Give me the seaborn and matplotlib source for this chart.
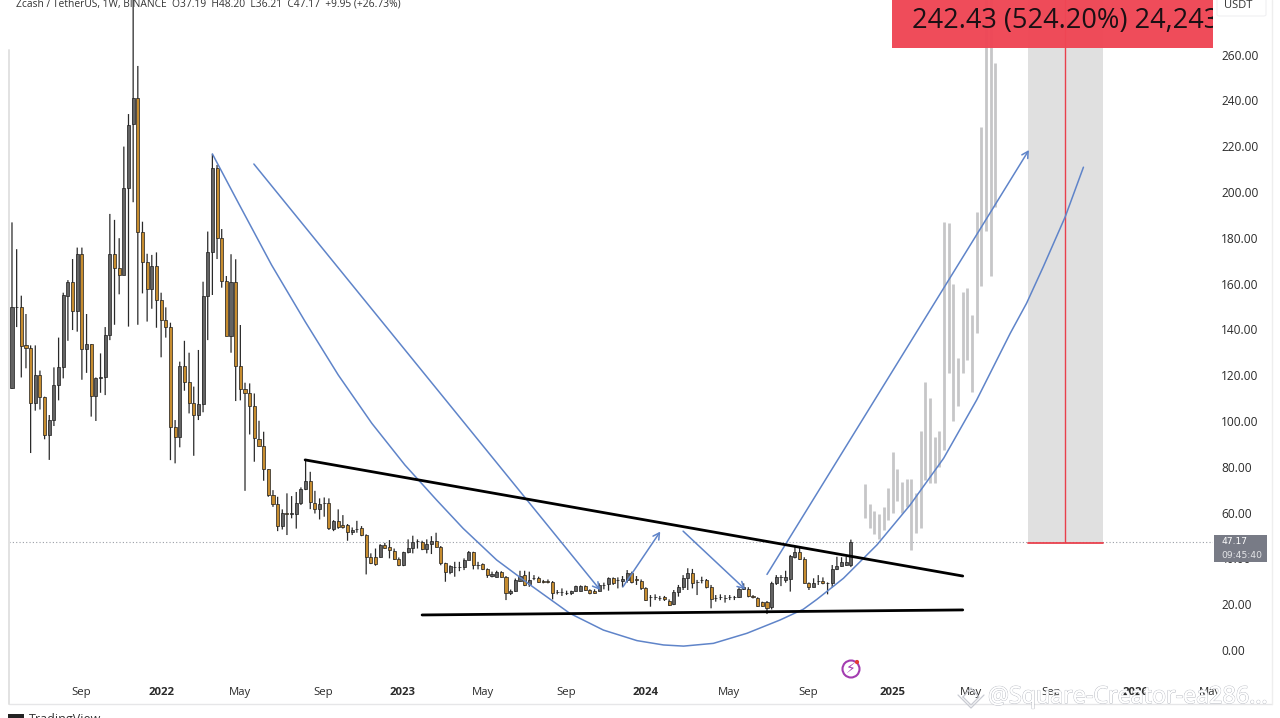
import numpy as np
import pandas as pd
import seaborn as sb
import matplotlib.pyplot as plt
import matplotlib.patheffects as pe
from matplotlib.lines import Line2D
from matplotlib.patches import Circle, Rectangle, FancyBboxPatch

## weekly candles ##
opens = [114.2,149.9,149.6,133,131.7,107.7,120,110.6,93.8,100.4,115.5,123.4,154.7,160.5,148,172.8,131.3,133.5,111,118.6,
         119.3,137.5,172.9,167,163.9,201.6,229.5,241.2,182.7,169.6,157.5,167.7,152.8,144,141.2,97.2,92.8,124.1,116.9,108,
         102.6,107.2,154.7,173.6,210.3,179.8,161.1,137.2,160.8,124.1,114,112.3,106.7,92.1,89.2,78.9,67.5,63.6,54.2,59.6,
         59.3,59.2,64.4,70.1,73.8,64.4,61.4,64.4,64,53,56.3,54.5,54.5,51.6,53,53.4,50,40.4,40.4,40.7,
         45.8,44.8,43.3,39.7,36.9,42.6,44.6,47.7,47,44.1,46.1,47.7,45.1,37.8,34.2,36.3,36.3,36.3,39.5,42.6,
         37,37.4,35.2,32.3,32,34.2,31.8,24.7,25.7,30.2,32.7,28.6,31.5,31.3,30,30,29.8,25.3,25.2,25,
         24.7,25.7,25.9,27.9,26.2,25.9,25.9,28.5,28.8,31.3,30.6,30.3,30.6,33.8,30.8,30.1,26.9,23,23.1,22.8,
         23,21.4,20.1,25.5,27.6,31.3,33.5,29.8,30.6,30.6,27.6,22.8,23.1,22.8,23,23,23,26.5,26.5,23.6,
         22.5,20.8,20.8,18.6,29.1,31.7,30.6,30.8,40.4,42.6,39.6,29.1,27.6,30.1,30.1,29.1,29.1,35.4,36.8,37.1,37.19]
closes = [149.9,149.9,132.9,132,107.7,120,110.6,93.8,100.4,115.7,123.4,155,160.5,148,172.8,131.3,133.5,111,118.9,119.3,
          137.5,172.9,167,163.9,201.6,229.2,241.2,182.7,169.6,157.5,167.7,152.8,144,141.2,97.2,92.8,124.1,116.9,108,102.6,
          107.2,154.7,173.6,210.3,179.8,161.1,137.2,160.8,124.1,113.9,112.3,106.7,92.4,89.2,78.9,67.5,63.6,54.2,59.6,59.3,
          59.8,64.4,70.1,73.8,64.7,61.4,63.7,64.2,53.1,56.3,53.5,53.5,51.6,52.6,53,50.3,40.4,37.8,37.5,46,
          44.6,43.6,39.7,36.9,42.6,44.6,47,47.7,43.9,46.1,47.7,45.1,37.8,34.2,36.6,36.3,36.1,39.5,42.6,37,
          37,35.2,32.7,33.4,34.2,32,24.7,25.7,30.5,32.4,28.4,30.5,31.5,29.8,29.5,29.7,25,25.2,25.2,25,
          25.7,27.9,27.9,26.2,24.7,24.7,28.4,28.5,31.3,29.1,30.6,30.8,33.8,29.8,30.4,26.9,21.8,23,23.1,22.8,
          22.4,19.6,25.5,27.6,31.6,33.8,29.4,29.8,30.6,27.6,22.1,22.8,23.1,22.8,23,23,26.5,27.4,23.6,23,
          19.2,19.2,18.2,29.4,32,31.7,31.7,41,42.6,39.6,29.4,27.4,29.1,30.1,29.1,29.1,35.2,36.8,38.3,38.3,47.17]
highs = [186.7,175,154.7,146.7,133,133,122,110.6,102.6,123.4,136.4,156,161.5,170.7,175.7,175.7,146.7,133.5,119,129.5,
         141,190.4,187.8,179.8,219.8,234,290,255,187,173,172.5,173.6,156,149.6,142.9,100.4,125.9,135,129.8,115,
         131,160.8,182.7,216.6,211.8,183.8,163.3,172.8,170.6,141.9,116.7,116.4,112,100.1,95.3,78.9,69.8,66.9,61.4,68.4,
         67.2,69,71,83,77.8,69.5,66.2,66.6,66.2,56.7,61.4,58.9,55,53.5,56.4,54.1,50.5,42.2,44.3,46.2,
         46.8,48,44.3,40.4,42.9,48.3,49.9,48.3,47.7,48.3,49.7,51.2,45.4,38.1,37,38.5,38.5,40,43.2,42.9,
         38.5,37.8,35.6,34.2,34.6,34.4,32.3,26.4,31.2,34.6,34.6,34.2,32.7,32,30.6,30.8,30.1,26.2,26.9,25.9,
         25.9,28.1,28.2,28.2,26.5,26.5,29.1,29.4,31.7,31.7,31.7,32.3,34.9,34.2,32.3,30.8,27.4,24,24.3,23.6,
         23.6,22.1,26.2,28.4,32.7,35.7,35.4,30.6,32,31,28.4,24,24.3,24,24,23.6,27.4,29.1,27.4,24,
         23,21.1,21.4,29.8,32.7,32.7,34.6,41.5,45.1,44.8,40.5,29.5,31.3,32.7,31.7,29.5,37.1,40.7,40.5,40.7,48.2]
lows = [114,141,119,123,86,104.5,105,92,83,97.8,109,118.6,135,139.7,139,118,121,101.9,100,112.3,
        111.3,135.3,142,155.3,163.9,141.2,195.5,142,155.7,143.4,149,140.7,127.8,136.4,82.9,81.5,88.5,113.2,103.3,84.8,
        100.4,103.8,135.3,155,170.7,158.2,137,129.8,108.7,109,69.5,94.1,82.2,88.8,73.9,66.9,62.5,51.9,52.6,50.2,
        57.5,53,63.3,69.8,61.5,59.6,57,58.2,52.4,51.9,52.9,53,47.7,50.2,51.2,49.7,33,37.5,36.8,40.4,
        44.3,40,39.3,36.6,36.6,42.2,42.2,44.3,43.6,42.2,41.9,44.8,37,29.8,33.1,32,34.4,34.9,39.3,35.2,
        35.2,34.9,31.5,31.7,31.7,31.7,21.8,24,25.4,29.8,27.9,27.6,30.5,29.4,29.1,29.1,22.1,24.3,23.6,24,
        24,25.5,25.6,25.9,24.3,24.6,25.6,26.5,25.9,28.4,26.9,27.4,29.4,29.1,28.4,26.2,21.4,18.9,21.8,21.5,
        21.4,19.3,19.6,23.3,26.2,26.2,26.9,24,29.1,26.9,18.2,21.1,21.8,20.7,21.8,21.8,22.7,26.2,23,22.5,
        18.9,18.9,15.7,17.7,28.4,27.9,29.4,25.5,40,39.3,29.1,26.2,27.4,28.4,28.7,24.3,27.4,34.9,36.4,36.8,36.21]

## pale projected bars ##
ghost_start = 183
ghost_highs = [72.3,63.6,60.7,59.4,62.6,70.6,86.6,78.9,73.5,74.6,74.5,68.4,95.6,117.2,109.9,93.1,95.6,187,186.5,159.6,
               127.4,156.4,157.9,146.3,191.3,228.5,300,300,256.1]
ghost_lows = [57.5,53.1,50.5,48.3,52.4,56.7,59.9,65.2,59.6,62.6,43.6,50.9,53.1,74.2,72.8,72.8,80,87.3,120.8,100,
              106.7,121,126.6,112.5,138.6,158.9,182.9,163.2,193.5]

## big hand drawn arc ##
arc_x = [43,48.6,55.7,62.9,70,77.2,84.3,91.1,96.8,104,111.2,119.7,126.9,134.1,139.8,144.1,150.5,157.7,164.8,169.8,
         172.7,178.4,185.6,192.7,199.9,207,214.2,217.7,221.3,226,229.9]
arc_y = [216.6,195.1,168.1,143.4,120.1,99,80.8,65.5,53.1,39.3,28.4,16,8.7,4.1,2.2,1.7,2.9,7.3,13.1,17.8,
         22.1,31.3,45.9,63.3,83.7,109.2,138.3,151.4,167.4,189.2,210.8]

## (x0, y0, x1, y1) ##
arrows = [(51.9,212.2,126.2,26.2), (131.1,27.6,139.1,51.7), (144,51.9,157.3,26.5), (162,33,218.2,218.3)]
trend_x = [62.9,204]
trend_y = [83,32.3]
floor_x = [88,204]
floor_y = [15.3,17.5]

y_ticks = [0,20,40,60,80,100,120,140,160,180,200,220,240,260]
x_ticks = [14.8,32,48.9,66.7,83.9,101,118.9,136,153.9,170.8,189,205.8,223,241,257]
x_labels = ['Sep','2022','May','Sep','2023','May','Sep','2024','May','Sep','2025','May','Sep','2026','May']
last_price = 47.17
target_x = [218,234.1]
target_mid = 226

W, H = 1280, 718
sb.set_style("white")
plt.rcParams['font.family'] = ['Open Sans', 'DejaVu Sans']

fig = plt.figure(figsize=(W/100, H/100), dpi=100)
ax = fig.add_axes([9/W, 1-682/H, (1213-9)/W, 682/H])
ax.set_xlim(-0.64, 257.7)
ax.set_ylim(-13.97, 283.8)

df = pd.DataFrame({'x': np.arange(len(opens)), 'o': opens, 'h': highs, 'l': lows, 'c': closes})
up = df[df.c >= df.o]
down = df[df.c < df.o]

ax.vlines(df.x, df.l, df.h, color='#2a2a2a', lw=0.9, zorder=3).set_snap(False)
ax.bar(up.x, (up.c-up.o), bottom=up.o, width=0.66, color='#636363', edgecolor='#1c1c1c', lw=0.5, zorder=4)
ax.bar(down.x, (down.c-down.o), bottom=down.o, width=0.66, color='#c68c2f', edgecolor='#1c1c1c', lw=0.5, zorder=4)

ghost_x = np.arange(ghost_start, ghost_start+len(ghost_highs))
ax.vlines(ghost_x, ghost_lows, ghost_highs, color='#c6c6c8', lw=2.0, zorder=2)

## target zone ##
ax.fill_between(target_x, last_price, 290, color='#e0e0e0', lw=0, zorder=1)
ax.plot([target_mid, target_mid], [last_price, 290], color='#e8404c', lw=1.0, zorder=2)
ax.plot(target_x, [last_price-0.4, last_price-0.4], color='#e8404c', lw=1.3, zorder=2)
ax.axhline(last_price, color='#9a9ea6', lw=0.8, ls=(0, (1, 2)), zorder=1)

## trend lines and arc through seaborn ##
blue = '#5f84c9'
sb.lineplot(x=trend_x, y=trend_y, color='black', lw=2.0, ax=ax, zorder=6)
sb.lineplot(x=floor_x, y=floor_y, color='black', lw=2.0, ax=ax, zorder=6)
sb.lineplot(x=arc_x, y=arc_y, color=blue, lw=1.1, ax=ax, zorder=5, estimator=None, sort=False)
for x0, y0, x1, y1 in arrows:
    ax.annotate('', xy=(x1, y1), xytext=(x0, y0), zorder=5,
                arrowprops=dict(arrowstyle='->,head_length=0.45,head_width=0.25', color=blue, lw=1.1,
                                shrinkA=0, shrinkB=0))

## red measure box ##
ax.add_patch(Rectangle((188.8, 262.9), 80, 30, facecolor='#ef4655', alpha=0.97, edgecolor='none', zorder=7))
ax.text(193.2, 274.8, '242.43 (524.20%) 24,243', fontsize=19.5, color='#1a1014', va='center', ha='left',
        family='Open Sans', clip_on=True, zorder=8)

## axes dressing ##
sb.despine(ax=ax, left=True, right=True, top=True, bottom=True)
ax.yaxis.tick_right()
ax.set_yticks(y_ticks)
ax.set_yticklabels([f'{v:.2f}' for v in y_ticks], fontsize=8.6, color='#2b2b2b')
ax.set_xticks(x_ticks)
ax.set_xticklabels(x_labels, fontsize=8.2, color='#2b2b2b')
for lab in ax.get_xticklabels():
    if lab.get_text().isdigit():
        lab.set_fontweight('bold')
ax.tick_params(axis='y', length=0, pad=5.8)
ax.tick_params(axis='x', length=0, pad=3.5)
ax.patch.set_alpha(0)

def px(x, y):
    return x/W, 1-y/H

frame = '#e6e6e8'
fig.add_artist(Line2D([9/W, 1272/W], [1-704/H, 1-704/H], color=frame, lw=1))
fig.add_artist(Line2D([1272/W, 1272/W], [1-704/H, 1], color='#eeeeee', lw=1))
fig.add_artist(Line2D([8.5/W, 8.5/W], [1-704/H, 1-50/H], color='#e2e2e2', lw=1.4))

## header texts ##
fig.text(*px(16, 4.5), 'Zcash / TetherUS, 1W, BINANCE  O37.19  H48.20  L36.21  C47.17  +9.95 (+26.73%)',
         fontsize=7.4, color='#333333', va='center', ha='left')
fig.add_artist(FancyBboxPatch((1217/W, 1-16/H), 49/W, 18/H, boxstyle='round,pad=0,rounding_size=0.002',
                              transform=fig.transFigure, fc='white', ec='#f0f0f2', lw=0.8))
fig.text(*px(1238, 5), 'USDT', fontsize=8, color='#333333', va='center', ha='center')

## last price tag ##
fig.add_artist(Rectangle((1214/W, 1-562/H), 53/W, 27/H, transform=fig.transFigure, fc='#787b86', ec='none'))
fig.text(*px(1221, 542), '47.17', fontsize=6.6, color='white', va='center', ha='left', family='DejaVu Sans')
fig.text(*px(1221, 555), '09:45:40', fontsize=6.6, color='#e4e5e8', va='center', ha='left', family='DejaVu Sans')

## lightning icon ##
fig.add_artist(Circle((851, H-669), 8.5, transform=None, fc='white', ec='#a33cb0', lw=1.5))
fig.add_artist(Circle((857, H-662), 2.1, transform=None, fc='#e53935', ec='none'))
fig.text(*px(851, 669), '\u26a1', fontsize=10, color='#a33cb0', va='center', ha='center', family='DejaVu Sans')

## watermark ##
fig.text(*px(988, 697), '@Square-Creator-ea286...', fontsize=16.8, color='white', va='center', ha='left',
         path_effects=[pe.withStroke(linewidth=0.8, foreground='#b9bcc4'), pe.Normal()])
for pts in ([(963, 697), (971, 688), (979, 697), (971, 705), (963, 697)], [(958, 695), (971, 708), (984, 695)]):
    xs, ys = zip(*pts)
    fig.add_artist(Line2D([v/W for v in xs], [1-v/H for v in ys], color='#c9cbd2', lw=0.9))

## tradingview footer, cut by the image edge ##
fig.add_artist(Rectangle((8/W, 0), 16/W, 4/H, transform=fig.transFigure, fc='#222222', ec='none'))
fig.text(*px(29, 720), 'TradingView', fontsize=9, color='#333333', va='center', ha='left')

fig.savefig('out.png', dpi=100)
